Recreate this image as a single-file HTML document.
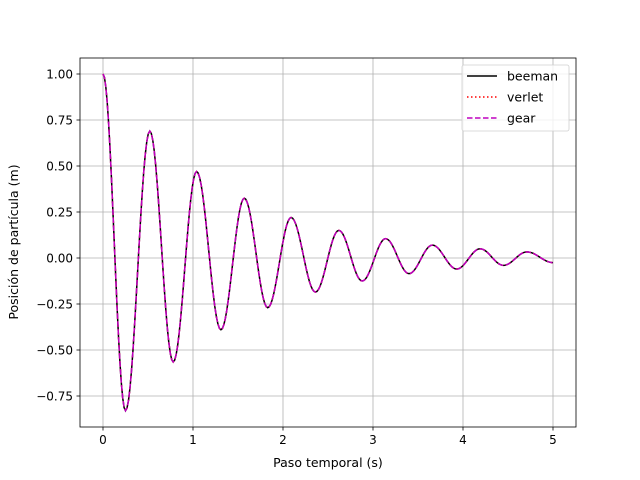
<!DOCTYPE html>
<html><head><meta charset="utf-8"><style>
body{margin:0;background:#fff;}
svg{display:block;font-family:"DejaVu Sans","Liberation Sans",sans-serif;}
</style></head><body>
<svg id="chart" width="640" height="480" viewBox="0 0 640 480"></svg>
<script>
const xTicks=[0,1,2,3,4,5];
const yTicks=[-0.75,-0.50,-0.25,0.00,0.25,0.50,0.75,1.00];
const extremaT=[0,0.25,0.52,0.78,1.04,1.31,1.57,1.83,2.09,2.36,2.62,2.88,3.14,3.40,3.66,3.93,4.19,4.45,4.71,5.0];
const beemanY=[1.00,-0.83,0.69,-0.565,0.47,-0.39,0.325,-0.27,0.22,-0.185,0.15,-0.125,0.105,-0.085,0.07,-0.06,0.05,-0.04,0.033,-0.025];
const verletY=[1.00,-0.83,0.69,-0.565,0.47,-0.39,0.325,-0.27,0.22,-0.185,0.15,-0.125,0.105,-0.085,0.07,-0.06,0.05,-0.04,0.033,-0.025];
const gearY=[1.00,-0.83,0.69,-0.565,0.47,-0.39,0.325,-0.27,0.22,-0.185,0.15,-0.125,0.105,-0.085,0.07,-0.06,0.05,-0.04,0.033,-0.025];
const seriesNames=["beeman","verlet","gear"];

const NS="http://www.w3.org/2000/svg";
const svg=document.getElementById('chart');
const L=80,R=576,T=58,B=427;
const X=t=>103+t*90;
const Y=v=>258-v*184;
function mk(tag,attrs,parent){const e=document.createElementNS(NS,tag);for(const k in attrs)e.setAttribute(k,attrs[k]);(parent||svg).appendChild(e);return e;}

xTicks.forEach(t=>{
  const g=mk('line',{x1:X(t),x2:X(t),y1:T,y2:B,stroke:'#b0b0b0','stroke-width':0.8});
  
  
  const tk=mk('line',{x1:X(t),x2:X(t),y1:B,y2:B+3.5,stroke:'#000','stroke-width':0.8});
  
  
  const lb=mk('text',{x:X(t),y:B+17,'font-size':12,'text-anchor':'middle',fill:'#000'});
  lb.textContent=String(t);
  
  
});
yTicks.forEach(v=>{
  const g=mk('line',{x1:L,x2:R,y1:Y(v),y2:Y(v),stroke:'#b0b0b0','stroke-width':0.8});
  
  
  const tk=mk('line',{x1:L-3.5,x2:L,y1:Y(v),y2:Y(v),stroke:'#000','stroke-width':0.8});
  
  
  const lb=mk('text',{x:L-7,y:Y(v)+4.3,'font-size':12,'text-anchor':'end',fill:'#000'});
  lb.textContent=v.toFixed(2).replace('-','\u2212');
  
  
});

function pathFor(ys){
  let d='M'+X(extremaT[0])+','+Y(ys[0]);
  for(let i=0;i<extremaT.length-1;i++){
    const t0=extremaT[i],t1=extremaT[i+1],a=ys[i],b=ys[i+1];
    for(let k=1;k<=16;k++){const s=k/16;const v=a+(b-a)*(1-Math.cos(Math.PI*s))/2;d+=' L'+X(t0+(t1-t0)*s).toFixed(2)+','+Y(v).toFixed(2);}
  }
  return d;
}
const styles=[{stroke:'#000','stroke-width':1.5},{stroke:'#ff0000','stroke-width':1.5,'stroke-dasharray':'1.5,2.5'},{stroke:'#bf00bf','stroke-width':1.5,'stroke-dasharray':'5.5,2.5'}];
[beemanY,verletY,gearY].forEach((ys,i)=>{
  const p=mk('path',Object.assign({d:pathFor(ys),fill:'none'},styles[i]));
  
  
});

const fr=mk('rect',{x:L,y:T,width:R-L,height:B-T,fill:'none',stroke:'#000','stroke-width':0.8});



const lg=mk('g',{});


mk('rect',{x:462,y:65,width:107,height:66,rx:2,fill:'#fff','fill-opacity':0.8,stroke:'#d0d0d0','stroke-width':0.8},lg);
seriesNames.forEach((n,i)=>{
  const y=76+i*21;
  const e=mk('g',{},lg);
  
  
  mk('line',Object.assign({x1:467,x2:497,y1:y,y2:y},styles[i]),e);
  const t=mk('text',{x:507,y:y+4.5,'font-size':12.5,fill:'#000'},e);
  t.textContent=n;
});

const xt=mk('text',{x:328,y:467,'font-size':12.5,'text-anchor':'middle',fill:'#000'});
xt.textContent='Paso temporal (s)';


const yt=mk('text',{x:18,y:242,'font-size':12.5,'text-anchor':'middle',fill:'#000',transform:'rotate(-90 18 242)'});
yt.textContent='Posición de partícula (m)';


</script>
</body></html>
